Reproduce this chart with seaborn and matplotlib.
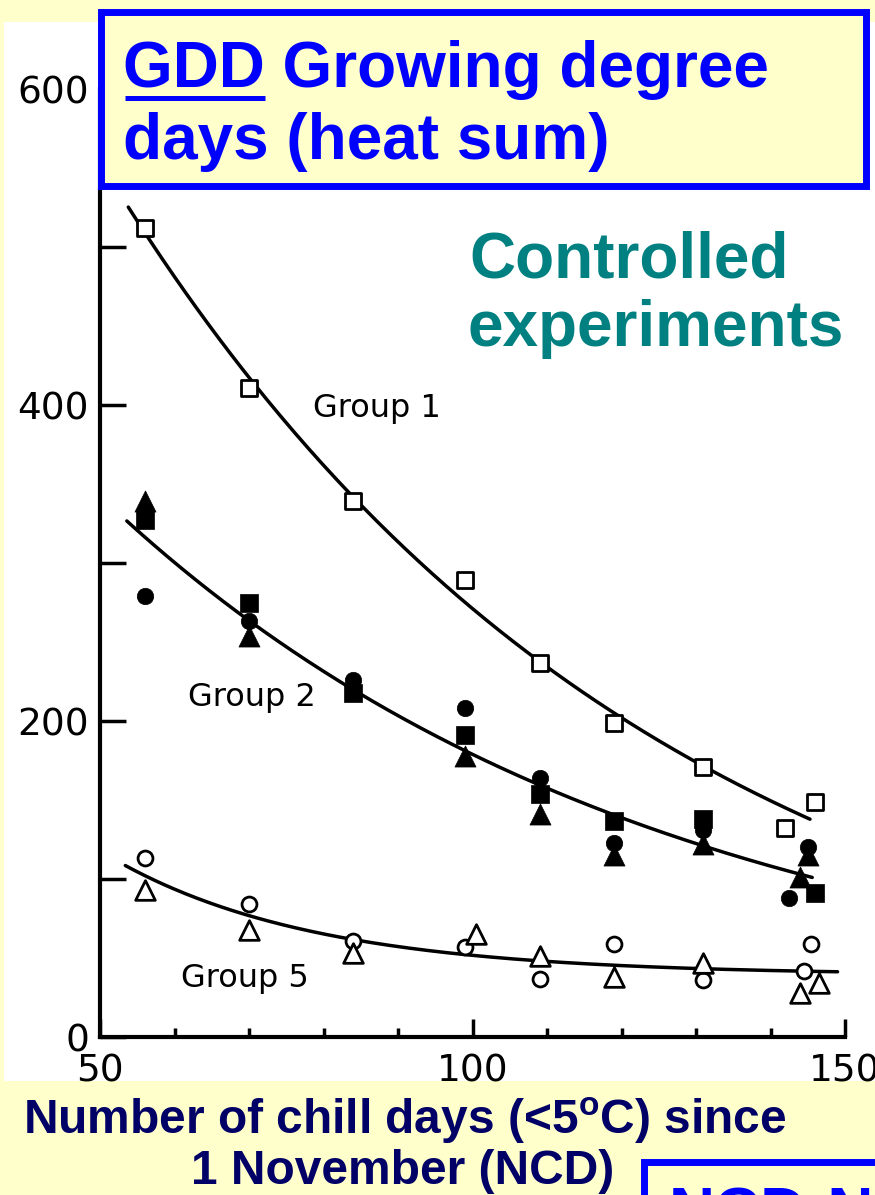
import numpy as np
import matplotlib
matplotlib.use("Agg")
import matplotlib.pyplot as plt
from matplotlib.patches import Rectangle
from matplotlib.lines import Line2D
import seaborn as sns

# ---- data: heat sum (GDD) needed for budburst vs. number of chill days ----
# Group 1 (open squares)
g1_x = [56, 70, 84, 99, 109, 119, 131, 142, 146]
g1_y = [512, 411, 339, 289, 237, 199, 171, 132, 149]

# Group 2 (filled circles, squares, triangles)
g2_circle_x = [56, 70, 84, 99, 109, 119, 131, 145, 142.5]
g2_circle_y = [279, 263, 226, 208, 164, 123, 131, 120, 88]
g2_square_x = [56, 70, 84, 99, 109, 119, 131, 146]
g2_square_y = [327, 275, 218, 191, 154, 137, 138, 91]
g2_tri_x = [56, 70, 99, 109, 119, 131, 145, 144]
g2_tri_y = [339, 254, 178, 141, 115, 122, 115, 101]

# Group 5 (open circles, open triangles)
g5_circle_x = [56, 70, 84, 99, 109, 119, 131, 145.5, 144.5]
g5_circle_y = [113, 84, 61, 57, 37, 59, 36, 59, 42]
g5_tri_x = [56, 70, 84, 100.5, 109, 119, 131, 144, 146.5]
g5_tri_y = [93, 68, 53, 65, 51, 38, 47, 28, 34]

# x-extent of each fitted curve
g1_span = (53.8, 145.3)
g2_span = (53.6, 145.6)
g5_span = (53.4, 149.0)

group_labels = ["Group 1", "Group 2", "Group 5"]
group_label_pos = [(78.6, 398), (61.8, 215), (60.9, 37)]

title_line1 = "GDD Growing degree"
title_line2 = "days (heat sum)"
underlined = "GDD"
note_lines = ["Controlled", "experiments"]
xlabel_lines = [r"Number of chill days (<5$^\mathbf{o}$C) since", "1 November (NCD)"]
corner_text = "NCD-N"


def decay_fit(x, y):
    """Least-squares fit of y = a*exp(-b*(x-50)) + c (grid search on b)."""
    x = np.asarray(x, float)
    y = np.asarray(y, float)
    best = None
    for b in np.linspace(0.002, 0.12, 800):
        A = np.column_stack([np.exp(-b * (x - 50)), np.ones_like(x)])
        coef, *_ = np.linalg.lstsq(A, y, rcond=None)
        sse = np.sum((A @ coef - y) ** 2)
        if best is None or sse < best[0]:
            best = (sse, b, coef)
    _, b, (a, c) = best
    return lambda t: a * np.exp(-b * (np.asarray(t) - 50)) + c


sns.set_theme(style="white")
plt.rcParams["font.family"] = ["DejaVu Sans"]
plt.rcParams["mathtext.fontset"] = "custom"
plt.rcParams["mathtext.bf"] = "Liberation Sans:bold"
plt.rcParams["mathtext.rm"] = "Liberation Sans"

W, H = 875, 1195
YELLOW = "#FFFFCC"
BLUE = "#0000FF"
TEAL = "#008080"
NAVY = "#000066"


def fx(px):
    return px / W


def fy(py):
    return 1 - py / H


fig = plt.figure(figsize=(W / 100, H / 100), dpi=100, facecolor=YELLOW)

# white panel behind the chart
fig.add_artist(Rectangle((fx(4), fy(1081)), 1.0, (1081 - 22) / H,
                         transform=fig.transFigure, facecolor="white",
                         edgecolor="none", zorder=-2))

ax = fig.add_axes([fx(100), fy(1037), 745 / W, (1037 - 89) / H])
ax.set_facecolor("none")
ax.set_xlim(50, 150)
ax.set_ylim(0, 600)

# fitted curves
for xs, ys, span in [(g1_x, g1_y, g1_span),
                     (g2_circle_x + g2_square_x + g2_tri_x,
                      g2_circle_y + g2_square_y + g2_tri_y, g2_span),
                     (g5_circle_x + g5_tri_x, g5_circle_y + g5_tri_y, g5_span)]:
    f = decay_fit(xs, ys)
    t = np.linspace(span[0], span[1], 300)
    sns.lineplot(x=t, y=f(t), color="black", linewidth=2.5, estimator=None,
                 ax=ax, zorder=2)

open_kw = dict(facecolor="white", edgecolor="black", linewidth=2.0, zorder=3)
fill_kw = dict(color="black", edgecolor="black", linewidth=0.5, zorder=3)

sns.scatterplot(x=g1_x, y=g1_y, marker="s", s=130, ax=ax, **open_kw)
sns.scatterplot(x=g2_circle_x, y=g2_circle_y, marker="o", s=140, ax=ax, **fill_kw)
sns.scatterplot(x=g2_square_x, y=g2_square_y, marker="s", s=150, ax=ax, **fill_kw)
sns.scatterplot(x=g2_tri_x, y=g2_tri_y, marker="^", s=230, ax=ax, **fill_kw)
sns.scatterplot(x=g5_circle_x, y=g5_circle_y, marker="o", s=115, ax=ax, **open_kw)
sns.scatterplot(x=g5_tri_x, y=g5_tri_y, marker="^", s=200, ax=ax, **open_kw)

for lab, (lx, ly) in zip(group_labels, group_label_pos):
    ax.text(lx, ly, lab, ha="left", va="center", fontsize=23, color="black",
            family="DejaVu Sans")

# axes styling
for side in ["top", "right"]:
    ax.spines[side].set_visible(False)
for side in ["left", "bottom"]:
    ax.spines[side].set_color("black")
    ax.spines[side].set_linewidth(3)
ax.grid(False)
ax.set_xlabel("")
ax.set_ylabel("")

ax.set_xticks([50, 100, 150])
ax.set_xticklabels(["50", "100", "150"])
ax.set_xticks(np.arange(60, 150, 10), minor=True)
ax.set_yticks(np.arange(0, 601, 100))
ax.set_yticklabels(["0", "", "200", "", "400", "", "600"])

ax.tick_params(axis="x", which="major", direction="in", length=13, width=2.5,
               pad=12, labelsize=27, colors="black", bottom=True)
ax.tick_params(axis="x", which="minor", direction="in", length=6.5, width=2.5,
               colors="black", bottom=True)
ax.tick_params(axis="y", which="major", direction="in", length=19, width=2.5,
               pad=8, labelsize=27, colors="black", left=True)

# title box
fig.add_artist(Rectangle((fx(101), fy(186)), (866 - 101) / W, (186 - 12) / H,
                         transform=fig.transFigure, facecolor=YELLOW,
                         edgecolor=BLUE, linewidth=5, zorder=5))
title_kw = dict(fontsize=46, fontweight="bold", family="Liberation Sans",
                color=BLUE, ha="left", va="baseline", zorder=6)
fig.text(fx(123), fy(87), title_line1, **title_kw)
fig.text(fx(123), fy(159), title_line2, **title_kw)

renderer = fig.canvas.get_renderer()
probe = fig.text(fx(123), fy(87), underlined, **title_kw)
bb = probe.get_window_extent(renderer)
probe.remove()
fig.add_artist(Line2D([bb.x0 / W + 0.002, bb.x1 / W], [fy(98), fy(98)],
                      transform=fig.transFigure, color=BLUE, linewidth=3.6,
                      solid_capstyle="butt", zorder=6))

# side note
note_kw = dict(fontsize=46, fontweight="bold", family="Liberation Sans",
               color=TEAL, ha="left", va="baseline", zorder=6)
fig.text(fx(469), fy(277), note_lines[0], **note_kw)
fig.text(fx(467), fy(346), note_lines[1], **note_kw)

# axis caption
xl_kw = dict(fontsize=34.5, fontweight="bold", family="Liberation Sans",
             color=NAVY, ha="center", va="baseline", zorder=6)
fig.text(fx(405), fy(1134), xlabel_lines[0], **xl_kw)
fig.text(fx(403), fy(1184), xlabel_lines[1], **xl_kw)

# box in the lower-right corner
fig.add_artist(Rectangle((fx(643.5), fy(1320)), 0.6, (1320 - 1161.5) / H,
                         transform=fig.transFigure, facecolor=YELLOW,
                         edgecolor=BLUE, linewidth=5, zorder=5))
fig.text(fx(669), fy(1234), corner_text, fontsize=46, fontweight="bold",
         family="Liberation Sans", color=BLUE, ha="left", va="baseline", zorder=6)

fig.savefig("out.png", dpi=100, facecolor=YELLOW)
